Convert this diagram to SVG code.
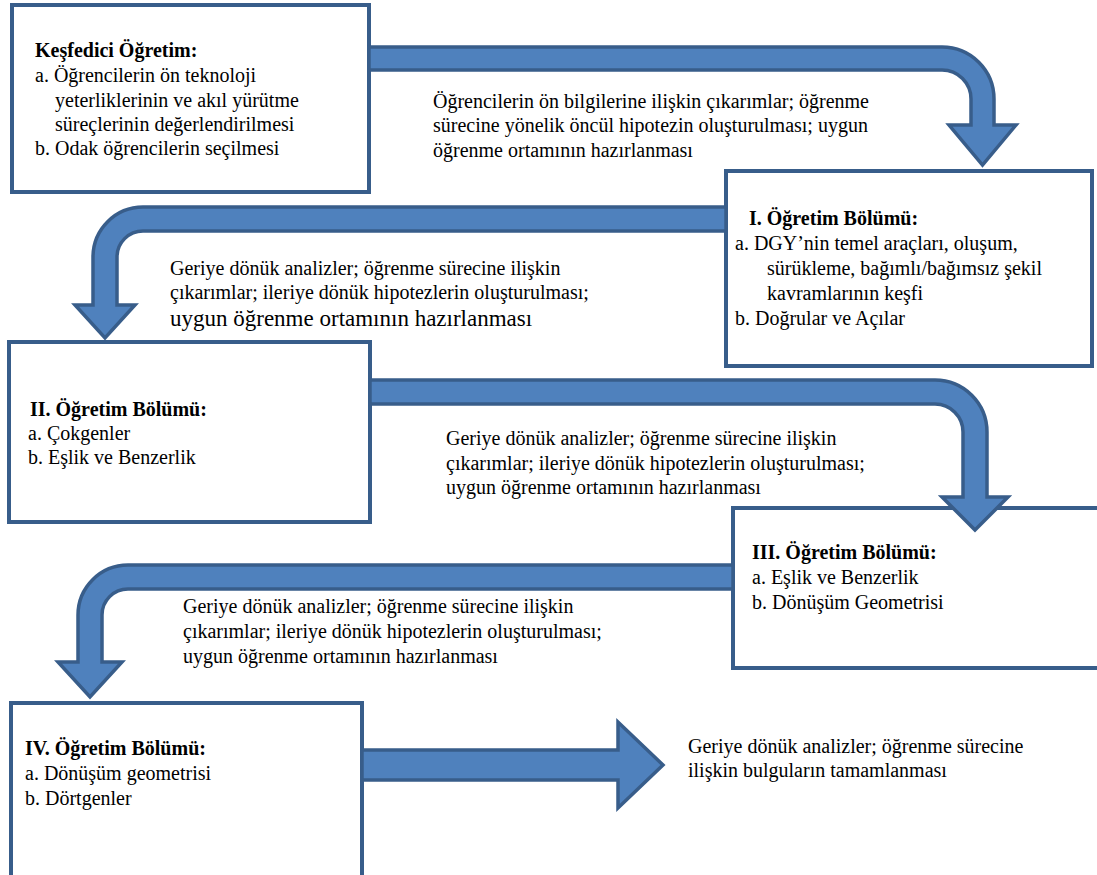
<svg xmlns="http://www.w3.org/2000/svg" width="1097" height="875" viewBox="0 0 1097 875">
<style>
.box{fill:#fff;stroke:#385D8A;stroke-width:4}
.arr{fill:#4F81BD;stroke:#385D8A;stroke-width:3.5;stroke-linejoin:miter}
text{font-family:'Liberation Serif','Times New Roman','Noto Serif',serif;font-size:20px;font-style:normal;font-weight:400;fill:#000}
text.h{font-weight:700}
text.big{font-size:23px}
</style>
<rect width="1097" height="875" fill="#fff"/>
<g id="node-kesfedici">
<rect class="box" x="12" y="5" width="357" height="187"/>
<text class="h" x="35" y="57">Keşfedici Öğretim:</text>
<text x="35" y="82">a. Öğrencilerin ön teknoloji</text>
<text x="55" y="107">yeterliklerinin ve akıl yürütme</text>
<text x="55" y="131">süreçlerinin değerlendirilmesi</text>
<text x="35" y="155">b. Odak öğrencilerin seçilmesi</text>
</g>
<g id="node-bolum1">
<rect class="box" x="726" y="171" width="366" height="195"/>
<text class="h" x="749" y="225">I. Öğretim Bölümü:</text>
<text x="735" y="250">a. DGY’nin temel araçları, oluşum,</text>
<text x="767" y="275">sürükleme, bağımlı/bağımsız şekil</text>
<text x="767" y="300">kavramlarının keşfi</text>
<text x="735" y="325">b. Doğrular ve Açılar</text>
</g>
<g id="node-bolum2">
<rect class="box" x="9" y="342" width="361" height="180"/>
<text class="h" x="30" y="416">II. Öğretim Bölümü:</text>
<text x="28" y="440">a. Çokgenler</text>
<text x="28" y="464">b. Eşlik ve Benzerlik</text>
</g>
<g id="node-bolum3">
<rect class="box" x="733" y="508" width="372" height="160"/>
<text class="h" x="752" y="559">III. Öğretim Bölümü:</text>
<text x="752" y="584">a. Eşlik ve Benzerlik</text>
<text x="752" y="609">b. Dönüşüm Geometrisi</text>
</g>
<g id="node-bolum4">
<rect class="box" x="11" y="703" width="351" height="185"/>
<text class="h" x="25" y="755">IV. Öğretim Bölümü:</text>
<text x="25" y="780">a. Dönüşüm geometrisi</text>
<text x="25" y="805">b. Dörtgenler</text>
</g>
<g id="connectors">
<path class="arr" d="M369,47 H942 A52,52 0 0 1 994,99 V125 H1016 L982.5,165 L949,125 H971 V99 A29,29 0 0 0 942,70 H369 Z"/>
<path class="arr" d="M726,207 H143 A50,50 0 0 0 93,257 V305 H75 L105,338 L135,305 H117 V257 A26,26 0 0 1 143,231 H726 Z"/>
<path class="arr" d="M370,380 H935 A52,52 0 0 1 987,432 V497 H1008 L975,530 L942,497 H963 V432 A28,28 0 0 0 935,404 H370 Z"/>
<path class="arr" d="M733,565 H128 A50,50 0 0 0 78,615 V662 H58 L90,697 L122,662 H102 V615 A26,26 0 0 1 128,589 H733 Z"/>
<path class="arr" d="M362,750 H618 V722 L663,765 L618,808 V780 H362 Z"/>
</g>
<g id="labels">
<text x="433" y="108">Öğrencilerin ön bilgilerine ilişkin çıkarımlar; öğrenme</text>
<text x="433" y="132">sürecine yönelik öncül hipotezin oluşturulması; uygun</text>
<text x="433" y="157">öğrenme ortamının hazırlanması</text>
<text x="170" y="275">Geriye dönük analizler; öğrenme sürecine ilişkin</text>
<text x="170" y="299">çıkarımlar; ileriye dönük hipotezlerin oluşturulması;</text>
<text class="big" x="170" y="326">uygun öğrenme ortamının hazırlanması</text>
<text x="446" y="445">Geriye dönük analizler; öğrenme sürecine ilişkin</text>
<text x="446" y="470">çıkarımlar; ileriye dönük hipotezlerin oluşturulması;</text>
<text x="446" y="494">uygun öğrenme ortamının hazırlanması</text>
<text x="183" y="613">Geriye dönük analizler; öğrenme sürecine ilişkin</text>
<text x="183" y="638">çıkarımlar; ileriye dönük hipotezlerin oluşturulması;</text>
<text x="183" y="663">uygun öğrenme ortamının hazırlanması</text>
<text x="688" y="753">Geriye dönük analizler; öğrenme sürecine</text>
<text x="688" y="777">ilişkin bulguların tamamlanması</text>
</g>
</svg>
